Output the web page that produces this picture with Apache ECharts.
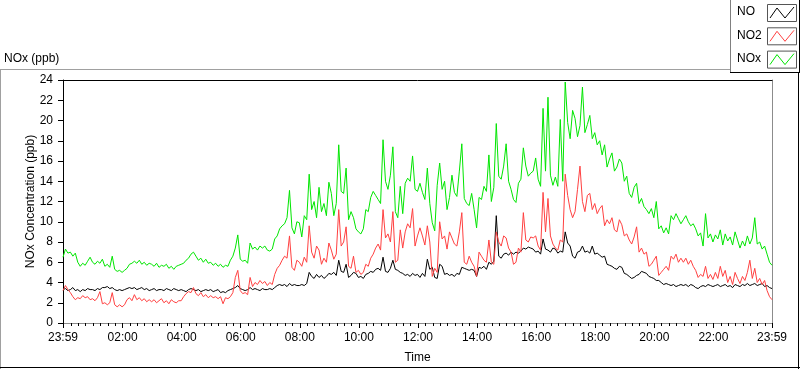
<!DOCTYPE html>
<html>
<head>
<meta charset="utf-8">
<script src="https://cdn.jsdelivr.net/npm/echarts@6/dist/echarts.min.js"></script>
<style>
html,body{margin:0;padding:0;background:#fff;}
#chart{width:800px;height:369px;}
</style>
</head>
<body>
<div id="chart"></div>
<script>
// ---- data (minutes of day; first sample at 23:59 of the previous day, one sample every 5 min)
const startMinute = -1;
const stepMinutes = 5;
const seriesNames = ['NO', 'NO2', 'NOx'];
const xTickLabels = ['23:59', '02:00', '04:00', '06:00', '08:00', '10:00', '12:00', '14:00', '16:00', '18:00', '20:00', '22:00', '23:59'];
const xTickMinutes = [-1, 120, 240, 360, 480, 600, 720, 840, 960, 1080, 1200, 1320, 1439];
const yTicks = [0, 2, 4, 6, 8, 10, 12, 14, 16, 18, 20, 22, 24];

const noValues = [
 3.3,3.4,3.2,3.3,3.5,3.2,3.3,3.1,3.3,3.2,3.4,3.3,
 3.3,3.2,3.4,3.3,3.5,3.5,3.6,3.4,3.5,3.3,3.2,3.3,
 3.2,3.3,3.4,3.5,3.4,3.5,3.3,3.4,3.5,3.3,3.4,3.2,
 3.3,3.4,3.2,3.3,3.3,3.2,3.4,3.3,3.2,3.4,3.3,3.2,
 3.3,3.2,3.1,3.3,3.4,3.3,3.2,3.3,3.1,3.2,3.3,3.2,
 3.3,3.1,3.2,3.3,3.0,3.1,3.0,3.2,3.3,3.4,3.5,3.7,
 3.4,3.3,3.2,3.3,3.5,3.3,3.4,3.3,3.2,3.4,3.3,3.3,
 3.4,3.3,3.5,3.7,3.8,3.7,3.8,3.6,3.9,3.7,3.8,3.7,
 3.7,3.8,3.7,3.9,5.0,4.6,4.4,4.8,4.5,4.7,4.4,4.6,
 4.9,4.8,5.0,4.7,6.2,5.1,5.0,5.8,4.5,4.7,5.0,4.9,
 4.5,4.6,4.4,4.8,4.9,5.1,5.0,5.3,5.4,5.2,6.5,5.1,
 5.0,5.4,6.2,5.3,5.2,5.0,4.9,4.7,4.8,4.6,4.9,4.7,
 4.8,4.5,4.9,4.6,6.3,5.3,5.5,4.5,4.4,5.8,5.6,4.8,
 4.9,4.7,4.8,4.6,4.9,4.8,5.5,5.4,5.3,5.2,5.3,5.2,
 4.6,5.5,5.4,5.6,5.3,6.0,5.8,6.1,10.6,6.6,6.4,6.8,
 6.9,6.7,7.0,6.8,7.0,6.9,7.1,7.4,7.3,7.5,7.4,7.3,
 7.0,7.1,6.8,8.3,7.3,7.2,7.0,7.4,7.3,6.9,7.1,7.0,
 9.0,7.9,7.6,6.6,6.4,7.0,7.1,7.6,7.0,7.1,6.9,7.6,
 6.8,6.9,6.7,6.5,6.6,5.8,5.7,5.6,5.4,5.3,5.6,5.5,
 4.9,4.8,4.6,4.4,4.5,4.7,4.8,5.1,5.0,4.9,4.6,4.5,
 4.4,4.2,4.2,4.0,3.8,3.9,3.8,3.7,3.8,3.6,3.7,3.8,
 3.7,3.8,3.6,3.8,3.7,3.5,3.4,3.6,3.7,3.6,3.8,3.7,
 3.6,3.7,3.8,3.6,3.7,3.8,3.6,3.7,3.5,3.8,3.7,3.6,
 3.8,3.7,3.9,3.7,3.8,3.9,3.7,3.8,3.9,3.6,3.7,3.5,
 3.4
];

const no2Values = [
 3.2,3.7,3.3,3.0,2.6,2.3,2.5,2.4,2.7,2.5,2.6,2.3,
 2.4,2.2,2.5,3.1,1.9,2.0,1.8,2.0,3.0,1.8,1.6,1.8,
 1.6,1.8,2.3,2.5,2.2,2.8,2.3,2.5,2.2,2.4,2.1,2.3,
 2.1,2.3,2.0,2.2,2.4,2.0,2.2,1.9,2.3,2.1,2.0,2.2,
 2.2,2.6,2.9,3.1,3.0,3.5,2.9,2.7,3.0,2.6,2.8,2.5,
 2.7,2.5,2.6,2.4,2.6,1.9,2.5,2.4,2.6,3.0,4.5,5.2,
 3.2,2.9,3.0,2.8,4.5,3.6,4.0,3.8,4.2,3.9,4.1,3.7,
 4.0,3.8,4.8,5.4,5.7,6.2,6.6,6.4,8.6,5.5,5.2,6.2,
 6.0,5.6,6.5,6.0,9.6,7.0,6.4,7.6,7.2,5.8,6.4,6.0,
 7.9,7.2,6.3,6.8,11.2,7.6,8.0,9.5,5.6,5.4,6.6,5.0,
 5.2,4.8,5.0,5.8,5.6,6.4,6.8,7.4,7.8,7.2,11.2,8.4,
 8.8,8.0,11.0,6.0,6.2,9.2,7.4,9.0,9.8,9.4,11.3,7.6,
 8.6,9.4,8.6,7.7,9.6,8.0,4.6,5.4,5.0,10.0,8.3,8.6,
 7.3,9.0,8.4,7.8,7.6,9.0,10.9,6.0,5.8,6.6,6.0,5.6,
 4.6,7.0,6.6,6.2,6.0,8.2,6.0,5.8,9.0,8.0,7.6,8.6,
 8.4,7.4,7.0,5.8,6.0,7.4,7.0,10.9,8.2,8.0,8.5,8.4,
 8.6,7.6,7.2,12.9,9.0,12.3,8.6,7.8,7.4,7.2,8.2,8.0,
 14.7,12.6,11.2,10.4,11.0,13.2,15.5,12.0,11.0,12.6,12.8,11.2,
 11.8,10.8,11.3,11.6,9.6,10.2,9.8,10.4,9.2,9.0,10.2,9.7,
 8.6,8.8,8.2,7.8,8.5,9.5,7.0,7.4,6.8,7.0,5.6,5.8,
 6.2,6.6,4.7,5.0,5.3,5.6,5.2,6.6,6.3,6.8,6.0,6.4,
 6.0,6.4,5.8,6.2,5.6,5.2,4.5,4.8,4.6,5.6,4.4,4.8,
 4.3,5.0,4.4,5.6,4.6,5.2,4.0,4.6,3.8,5.0,4.4,3.9,
 4.6,4.2,5.0,6.2,4.4,5.4,4.0,4.4,3.8,4.2,3.2,2.6,
 2.3
];

const noxValues = [
 6.5,7.3,6.9,7.0,6.6,6.9,6.0,5.6,5.9,5.7,6.1,6.5,
 6.0,5.8,6.1,5.9,6.3,5.6,5.8,5.5,6.6,5.3,5.1,5.2,
 5.0,5.2,5.4,5.8,5.9,6.1,5.9,6.2,5.8,6.0,5.7,5.9,
 5.8,5.6,5.9,5.5,5.7,5.6,5.8,5.4,5.6,5.3,5.6,5.7,
 5.8,5.9,6.2,6.4,6.8,7.0,6.6,6.2,6.4,6.0,6.3,5.9,
 6.0,5.7,5.9,5.6,5.8,5.5,5.7,5.6,6.2,6.6,7.4,8.7,
 6.3,6.1,6.2,5.9,7.9,7.3,7.5,7.2,7.6,7.4,7.6,7.2,
 7.1,7.3,8.3,8.6,9.3,9.6,9.8,10.4,13.1,9.4,8.8,10.0,
 9.9,8.5,10.6,10.2,14.7,11.2,12.0,10.4,13.4,11.0,11.8,10.6,
 13.9,12.8,10.6,11.8,17.6,13.0,12.8,15.3,10.2,11.0,10.4,9.3,
 9.0,8.8,9.3,11.2,11.0,12.4,13.0,12.6,12.2,11.8,18.1,14.0,
 13.2,14.6,17.4,11.0,10.4,13.5,10.8,13.8,14.3,14.0,16.5,13.2,
 13.0,13.8,12.9,12.2,15.3,11.8,9.9,9.1,13.6,15.8,13.2,14.0,
 11.2,12.4,14.6,12.9,12.5,15.0,17.7,12.3,11.8,11.6,12.8,11.2,
 9.4,12.4,12.2,13.5,13.0,16.6,12.0,13.4,19.7,14.5,14.2,15.5,
 17.7,14.0,13.2,12.2,11.9,13.8,14.2,17.3,15.5,14.5,14.8,15.0,
 16.3,14.2,13.5,21.2,15.0,22.3,14.6,13.6,14.4,13.5,20.1,14.0,
 23.8,19.8,18.2,21.0,20.2,18.4,19.5,23.3,18.8,19.6,20.5,18.2,
 18.8,17.6,18.0,16.6,17.6,15.4,16.2,16.8,15.0,15.4,16.2,15.8,
 14.0,14.5,12.8,12.4,13.4,13.8,11.8,12.3,11.5,11.2,10.8,11.3,
 10.4,12.0,9.3,9.6,8.9,9.4,8.8,10.6,10.2,10.8,10.3,9.8,
 10.2,10.6,10.0,9.6,9.8,9.3,8.6,8.9,7.6,10.8,8.4,8.8,
 8.0,8.7,8.3,9.2,7.7,8.8,8.1,8.5,7.7,9.0,8.2,7.4,
 8.1,7.6,8.6,7.8,8.4,10.4,7.8,8.0,7.3,7.6,6.8,6.0,
 5.7
];

const seriesColors = ['#000000', '#ff4040', '#00e600'];
const seriesValues = [noValues, no2Values, noxValues];

function toPairs(values) {
  return values.map((v, i) => [startMinute + i * stepMinutes, v]);
}
const minorTickMinutes = [];
for (let m = 0; m <= 1425; m += 15) minorTickMinutes.push(m);
minorTickMinutes.push(1439);

const FONT = 'Liberation Sans';
const chart = echarts.init(document.getElementById('chart'), null, {renderer: 'canvas'});

const legendGraphics = [];
seriesNames.forEach((name, k) => {
  const y0 = 4 + k * 23.3;
  legendGraphics.push({
    type: 'text', left: 737, top: y0 + 2,
    style: {text: name, font: '12px "' + FONT + '"', fill: '#000'}
  });
  legendGraphics.push({
    type: 'rect', shape: {x: 767.5, y: y0 + 0.5, width: 29, height: 17},
    style: {fill: '#fff', stroke: '#555', lineWidth: 1}
  });
  legendGraphics.push({
    type: 'polyline',
    shape: {points: [[770, y0 + 14], [777, y0 + 4], [785, y0 + 14], [794, y0 + 3]]},
    style: {stroke: seriesColors[k], lineWidth: 1, fill: null}
  });
});

const option = {
  animation: false,
  backgroundColor: '#fff',
  grid: {left: 63, right: 28, top: 80, bottom: 39, containLabel: false},
  xAxis: [
    {
      type: 'value', min: -1, max: 1439, position: 'bottom',
      name: 'Time', nameLocation: 'middle', nameGap: 29, nameMoveOverlap: false,
      nameTextStyle: {color: '#000', fontFamily: FONT, fontSize: 12},
      axisLine: {show: true, onZero: false, lineStyle: {color: '#8c8c8c', width: 1}},
      axisTick: {show: true, inside: false, length: 5, customValues: xTickMinutes.concat([0]), lineStyle: {color: '#000'}},
      axisLabel: {
        show: true, margin: 9, customValues: xTickMinutes,
        color: '#000', fontFamily: FONT, fontSize: 12,
        formatter: function (v) { const i = xTickMinutes.indexOf(v); return i >= 0 ? xTickLabels[i] : ''; }
      },
      splitLine: {show: false}
    },
    {
      type: 'value', min: -1, max: 1439, position: 'bottom',
      axisLine: {show: false, onZero: false},
      axisTick: {show: true, inside: false, length: 3, customValues: minorTickMinutes, lineStyle: {color: '#000'}},
      axisLabel: {show: false},
      splitLine: {show: false}
    },
    {
      type: 'value', min: -1, max: 1439, position: 'top',
      axisLine: {show: true, onZero: false, lineStyle: {color: '#000', width: 1}},
      axisTick: {show: false}, axisLabel: {show: false}, splitLine: {show: false}
    }
  ],
  yAxis: [
    {
      type: 'value', min: 0, max: 24, interval: 2, position: 'left',
      name: 'NOx Concentration (ppb)', nameLocation: 'middle', nameGap: 26, nameRotate: 90, nameMoveOverlap: false,
      nameTextStyle: {color: '#000', fontFamily: FONT, fontSize: 12},
      axisLine: {show: true, onZero: false, lineStyle: {color: '#000', width: 1}},
      axisTick: {show: true, inside: false, length: 5, lineStyle: {color: '#000'}},
      axisLabel: {show: true, margin: 10, color: '#000', fontFamily: FONT, fontSize: 12},
      splitLine: {show: false}
    },
    {
      type: 'value', min: 0, max: 24, interval: 2, position: 'right',
      axisLine: {show: true, onZero: false, lineStyle: {color: '#8c8c8c', width: 1}},
      axisTick: {show: false}, axisLabel: {show: false}, splitLine: {show: false}
    }
  ],
  series: seriesNames.map((name, k) => ({
    name: name, type: 'line', xAxisIndex: 0, yAxisIndex: 0,
    data: toPairs(seriesValues[k]),
    showSymbol: false, symbol: 'none',
    lineStyle: {color: seriesColors[k], width: 1},
    itemStyle: {color: seriesColors[k]},
    emphasis: {disabled: true},
    z: 2 + k
  })),
  graphic: [
    {type: 'line', shape: {x1: 0, y1: 69.5, x2: 800, y2: 69.5}, style: {stroke: '#a0a0a0', lineWidth: 1}},
    {type: 'line', shape: {x1: 0.5, y1: 69, x2: 0.5, y2: 369}, style: {stroke: '#a0a0a0', lineWidth: 1}},
    {type: 'line', shape: {x1: 0, y1: 367.5, x2: 800, y2: 367.5}, style: {stroke: '#000', lineWidth: 1}},
    {type: 'line', shape: {x1: 798.5, y1: 69, x2: 798.5, y2: 369}, style: {stroke: '#000', lineWidth: 1}},
    {type: 'rect', shape: {x: 730.5, y: -1, width: 70, height: 73}, style: {fill: '#fff', stroke: null}},
    {type: 'line', shape: {x1: 730.5, y1: 0, x2: 730.5, y2: 72}, style: {stroke: '#808080', lineWidth: 1}},
    {type: 'line', shape: {x1: 730, y1: 72.5, x2: 800, y2: 72.5}, style: {stroke: '#000', lineWidth: 1}},
    {type: 'line', shape: {x1: 799.5, y1: 0, x2: 799.5, y2: 73}, style: {stroke: '#000', lineWidth: 1}},
    {type: 'text', left: 4, top: 53, style: {text: 'NOx (ppb)', font: '12px "' + FONT + '"', fill: '#000'}}
  ].concat(legendGraphics)
};
chart.setOption(option);
</script>
</body>
</html>
